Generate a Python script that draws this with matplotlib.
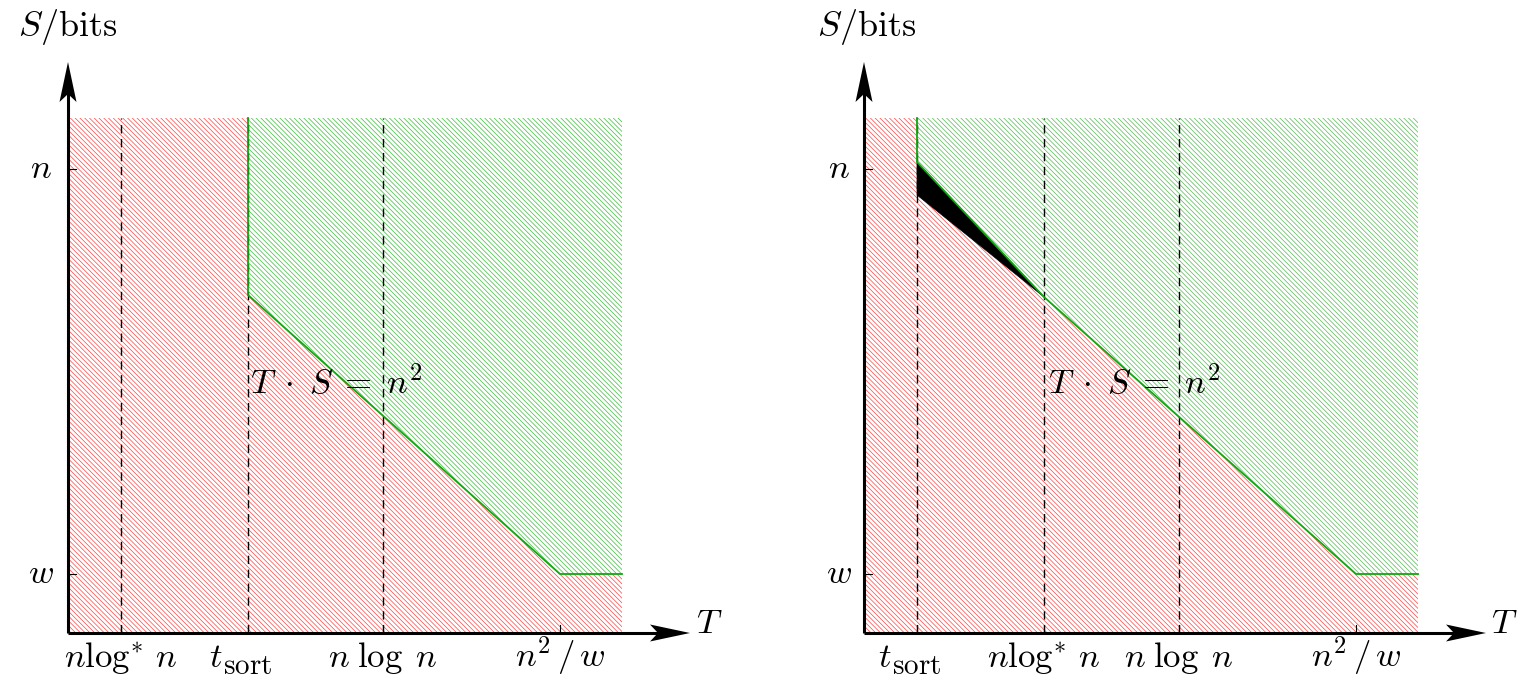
import matplotlib
matplotlib.use("Agg")
import matplotlib.pyplot as plt
from matplotlib.patches import Polygon

plt.rcParams['mathtext.fontset'] = 'cm'
plt.rcParams['hatch.linewidth'] = 0.5

# ---- data (abstract T / S positions, origin at the axes corner) ----
T_ticks = [53, 180, 315, 492]
dashed_T = [53, 180, 315]
left_T_labels = [r'$n\log^*\,n$', 'tsort', r'$n\;\log\;n$', r'$n^2\,/\,w$']
right_T_labels = ['tsort', r'$n\log^*\,n$', r'$n\;\log\;n$', r'$n^2\,/\,w$']
S_ticks = [464, 59]
S_labels = [r'$n$', r'$w$']
T_max, S_max = 554, 515
T_arrow, S_arrow = 622, 571

# left panel: boundary of the feasible (green) region
left_green_T = [180, 180, 492, 554]
left_green_S = [515, 338, 59, 59]
left_red_T = [180, 492, 554]
left_red_S = [338, 59, 59]
# right panel
right_green_T = [53, 53, 180, 492, 554]
right_green_S = [515, 471, 336, 59, 59]
right_black_T = [53, 180, 53]
right_black_S = [471, 336, 438]
right_red_T = [53, 180, 492, 554]
right_red_S = [438, 336, 59, 59]

RED = '#ff4444'
GREEN_L = '#3cbf3c'
GREEN_R = '#55b955'
GLINE = '#10a810'
HATCH = '\\' * 7
FS = 25

fig = plt.figure(figsize=(15.18, 6.8), dpi=100)


def tick_label(ax, t, lab):
    if lab == 'tsort':
        ax.text(t - 39, -34, r'$t$', ha='left', va='baseline', fontsize=FS)
        ax.text(t - 25, -41, r'$\mathrm{sort}$', ha='left', va='baseline',
                fontsize=21)
    else:
        ax.text(t, -34, lab, ha='center', va='baseline', fontsize=FS)


def panel(rect, xlim, T_labels, green_T, green_S, red_T, red_S, gcol,
          black=None, ts_x=182, slab_x=0, t_x=640, ylab_x=-27):
    ax = fig.add_axes(rect)
    ax.set_xlim(*xlim)
    ax.set_ylim(-47, 633)
    ax.axis('off')
    # dashed verticals
    for t in dashed_T:
        ax.plot([t, t], [0, S_max], color='black', lw=1.0,
                dashes=(6, 4), zorder=1)
    # red infeasible region
    red_poly = [(0, 0), (T_max, 0)] + [(t, s) for t, s in
                                       zip(red_T[::-1], red_S[::-1])]
    red_poly += [(red_T[0], S_max), (0, S_max)]
    ax.add_patch(Polygon(red_poly, closed=True, facecolor='none',
                         edgecolor=RED, hatch=HATCH, lw=0, zorder=0))
    # green feasible region
    g_poly = [(t, s) for t, s in zip(green_T, green_S)] + [(T_max, S_max)]
    ax.add_patch(Polygon(g_poly, closed=True, facecolor='none',
                         edgecolor=gcol, hatch=HATCH, lw=0, zorder=0))
    ax.plot(green_T, green_S, color=GLINE, lw=1.3, zorder=3)
    if black is not None:
        ax.add_patch(Polygon(list(zip(*black)), closed=True,
                             facecolor='black', edgecolor='black', lw=0.5,
                             zorder=2))
    # axes with arrows
    ax.plot([0, T_arrow - 30], [0, 0], color='black', lw=2.2,
            solid_capstyle='butt', zorder=5)
    ax.plot([0, 0], [0, S_arrow - 30], color='black', lw=2.2,
            solid_capstyle='butt', zorder=5)
    L, W, N = 40, 8.5, 32
    ax.add_patch(Polygon([(T_arrow, 0), (T_arrow - L, W), (T_arrow - N, 0),
                          (T_arrow - L, -W)], closed=True, color='black',
                         lw=0, zorder=6))
    ax.add_patch(Polygon([(0, S_arrow), (W, S_arrow - L), (0, S_arrow - N),
                          (-W, S_arrow - L)], closed=True, color='black',
                         lw=0, zorder=6))
    # ticks
    for t, lab in zip(T_ticks, T_labels):
        ax.plot([t, t], [0, 8], color='black', lw=0.8, zorder=5)
        tick_label(ax, t, lab)
    for s, lab in zip(S_ticks, S_labels):
        ax.plot([0, 8], [s, s], color='black', lw=0.8, zorder=5)
        ax.text(ylab_x, s - 9, lab, ha='center', va='baseline', fontsize=FS)
    ax.text(t_x, 0, r'$T$', ha='center', va='baseline', fontsize=FS)
    ax.text(slab_x, 597, r'$S/\mathrm{bits}$', ha='center', va='baseline',
            fontsize=FS + 1)
    ax.text(ts_x, 239, r'$T\;\cdot\;S\;=\;n^2$', ha='left', va='baseline',
            fontsize=FS, zorder=7)
    return ax


panel([0, 0, 759 / 1518, 1], (-68, 691), left_T_labels,
      left_green_T, left_green_S, left_red_T, left_red_S, GREEN_L,
      ts_x=182, slab_x=0, t_x=641, ylab_x=-27)
panel([759 / 1518, 0, 759 / 1518, 1], (-105, 654), right_T_labels,
      right_green_T, right_green_S, right_red_T, right_red_S, GREEN_R,
      black=(right_black_T, right_black_S), ts_x=184, slab_x=3, t_x=640,
      ylab_x=-25)

fig.savefig('out.png', dpi=100)
